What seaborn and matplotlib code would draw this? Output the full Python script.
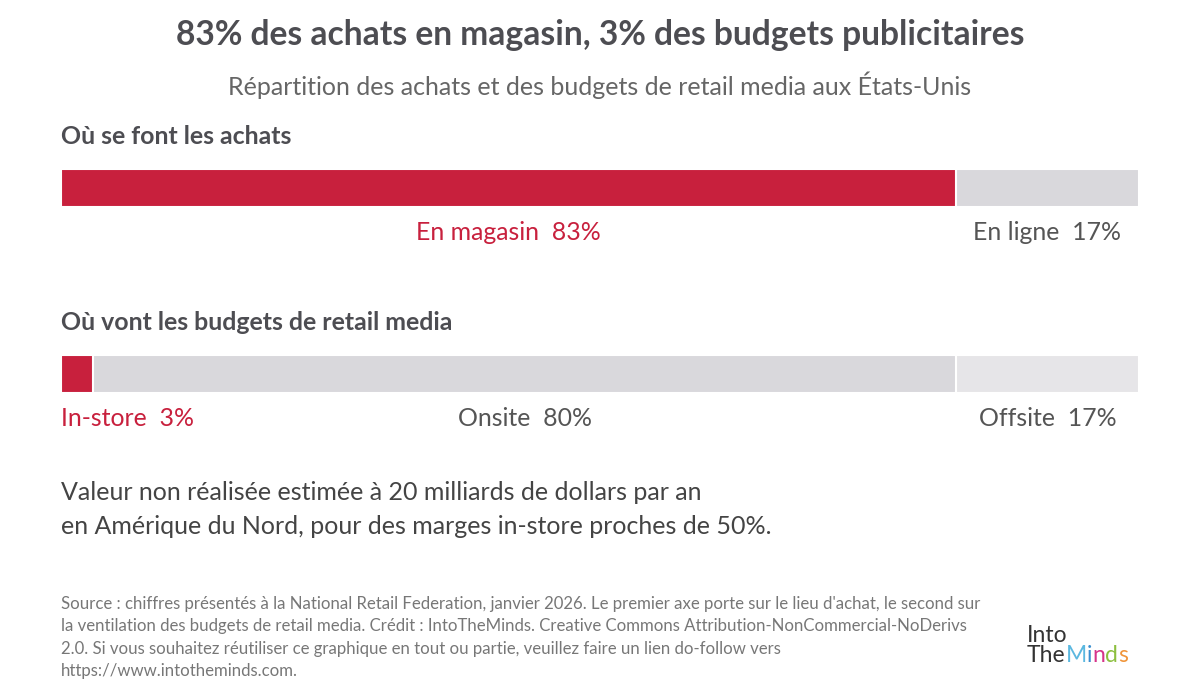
import pandas as pd
import matplotlib.pyplot as plt
import seaborn as sns

# --- data ---
achats_labels = ["En magasin", "En ligne"]
achats_values = [83, 17]
budget_labels = ["In-store", "Onsite", "Offsite"]
budget_values = [3, 80, 17]

title = "83% des achats en magasin, 3% des budgets publicitaires"
subtitle = "Répartition des achats et des budgets de retail media aux États-Unis"
section1 = "Où se font les achats"
section2 = "Où vont les budgets de retail media"
note_lines = ["Valeur non réalisée estimée à 20 milliards de dollars par an",
              "en Amérique du Nord, pour des marges in-store proches de 50%."]
source_lines = [
    "Source : chiffres présentés à la National Retail Federation, janvier 2026. Le premier axe porte sur le lieu d'achat, le second sur",
    "la ventilation des budgets de retail media. Crédit : IntoTheMinds. Creative Commons Attribution-NonCommercial-NoDerivs",
    "2.0. Si vous souhaitez réutiliser ce graphique en tout ou partie, veuillez faire un lien do-follow vers",
    "https://www.intotheminds.com.",
]

RED = "#c8203d"
GREY1 = "#d9d8dc"
GREY2 = "#e6e5e8"
DARK = "#4d4d52"
TXT = "#555555"

sns.set_style("white")
plt.rcParams["font.family"] = ["Lato", "DejaVu Sans"]

W, H = 1200, 700
fig = plt.figure(figsize=(12, 7), dpi=100)
fig.patch.set_facecolor("white")


def fx(px):
    return px / W


def fy(py):
    return 1 - py / H


fig.text(0.5, fy(35), title, ha="center", va="center", fontsize=24.2,
         fontweight="bold", color=DARK)
fig.text(0.5, fy(85), subtitle, ha="center", va="center", fontsize=18, color="#666666")
fig.text(fx(61), fy(136), section1, ha="left", va="center", fontsize=17.9,
         fontweight="bold", color=DARK)
fig.text(fx(61), fy(322), section2, ha="left", va="center", fontsize=17.9,
         fontweight="bold", color=DARK)


def stacked_row(top_px, labels, values, colors, label_colors, aligns):
    bar_h = 38
    total_h = 90
    ax = fig.add_axes([fx(61), fy(top_px + total_h), fx(1139) - fx(61), total_h / H])
    cum = pd.Series(values).cumsum().tolist()
    # draw from the widest cumulative segment to the narrowest
    for i in reversed(range(len(values))):
        sns.barplot(x=[cum[i]], y=["r"], orient="h", width=1, color=colors[i],
                    saturation=1, edgecolor="white", linewidth=1.5, ax=ax)
    ax.set_xlim(0, 100)
    ax.set_ylim(-0.5 + total_h / bar_h, -0.5)
    ax.axis("off")
    label_y = -0.5 + 63 / bar_h
    starts = [0] + cum[:-1]
    for lab, v, s, e, c, a in zip(labels, values, starts, cum, label_colors, aligns):
        txt = f"{lab}  {v}%"
        if a == "left":
            ax.text(s, label_y, txt, ha="left", va="center", fontsize=17.9, color=c)
        else:
            ax.text((s + e) / 2, label_y, txt, ha="center", va="center", fontsize=17.9, color=c)
    return ax


stacked_row(169, achats_labels, achats_values, [RED, GREY1], [RED, TXT], ["center", "center"])
stacked_row(355, budget_labels, budget_values, [RED, GREY1, GREY2], [RED, TXT, TXT],
            ["left", "center", "center"])

for i, line in enumerate(note_lines):
    fig.text(fx(61), fy(493 + i * 33), line, ha="left", va="center", fontsize=18, color="#444444")

for i, line in enumerate(source_lines):
    fig.text(fx(61), fy(604 + i * 22.3), line, ha="left", va="center", fontsize=12.1, color="#777777")

# logo
fig.text(fx(1027), fy(642), "Into", ha="left", va="baseline", fontsize=16.5, color="#333333")
logo_parts = [("The", "#333333"), ("M", "#5bb8e0"), ("i", "#3b8fd0"),
              ("n", "#d6338a"), ("d", "#8cbf3f"), ("s", "#f0953a")]
x0 = fx(1027)
renderer = fig.canvas.get_renderer()
for part, col in logo_parts:
    t = fig.text(x0, fy(662), part, ha="left", va="baseline", fontsize=16.5, color=col)
    bb = t.get_window_extent(renderer=renderer)
    x0 += bb.width / W

fig.savefig("out.png", dpi=100, facecolor="white")
